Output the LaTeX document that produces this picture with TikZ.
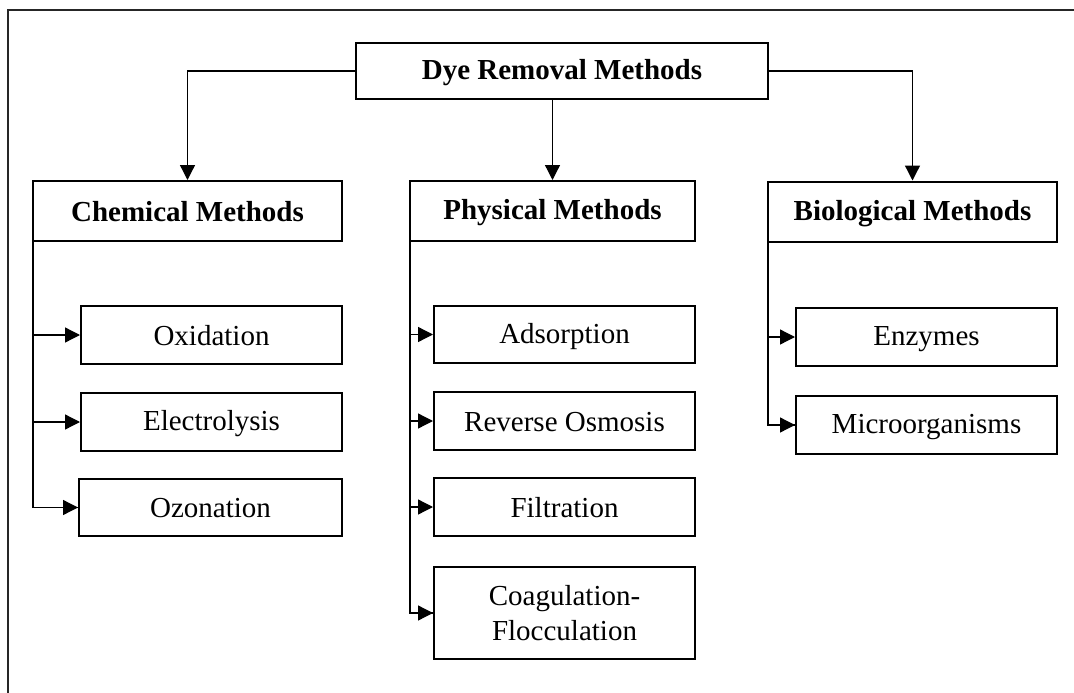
\documentclass[tikz,border=0pt]{standalone}
\usepackage{fontspec}
\setmainfont{Liberation Serif}
\usetikzlibrary{arrows.meta}
\newcommand{\mystr}{\vrule height 24pt depth 4pt width 0pt}
\begin{document}
\begin{tikzpicture}[x=1pt,y=-1pt,
  box/.style={draw,line width=2pt,inner sep=0pt,align=center,font=\fontsize{29}{35}\selectfont},
  head/.style={box,font=\fontsize{29}{35}\selectfont\bfseries},
  conn/.style={line width=1.3pt,-{Triangle[length=15pt,width=15pt]}},
  plain/.style={line width=1.3pt}]
\useasboundingbox (0,0) rectangle (1074,693);
\draw[line width=2pt,black!85] (8,693) -- (8,10) -- (1074,10);
\node[head,minimum width=412pt,minimum height=56pt] (root) at (562,71) {\mystr Dye Removal Methods};
\node[head,minimum width=309pt,minimum height=60pt] (chem) at (187.5,211) {\mystr Chemical Methods};
\node[head,minimum width=285pt,minimum height=60pt] (phys) at (552.5,211) {\mystr Physical Methods};
\node[head,minimum width=289pt,minimum height=60pt] (bio) at (912.5,211.5) {\mystr Biological Methods};
\node[box,minimum width=261pt,minimum height=58pt] (ox) at (211.5,335) {\mystr Oxidation};
\node[box,minimum width=261pt,minimum height=58pt] (el) at (211.5,422) {\mystr Electrolysis};
\node[box,minimum width=263pt,minimum height=57pt] (oz) at (210.5,507.5) {\mystr Ozonation};
\node[box,minimum width=261pt,minimum height=57pt] (ad) at (564.5,334.5) {\mystr Adsorption};
\node[box,minimum width=261pt,minimum height=58pt] (ro) at (564.5,421) {\mystr Reverse Osmosis};
\node[box,minimum width=261pt,minimum height=58pt] (fi) at (564.5,507) {\mystr Filtration};
\node[box,minimum width=261pt,minimum height=92pt] (co) at (564.5,613) {\vrule height 24pt depth 0pt width 0pt Coagulation-\\Flocculation\vrule height 0pt depth 4pt width 0pt};
\node[box,minimum width=261pt,minimum height=58pt] (en) at (926.5,337) {\mystr Enzymes};
\node[box,minimum width=261pt,minimum height=58pt] (mi) at (926.5,425) {\mystr Microorganisms};
% top level
\draw[conn] (root.west) -| (chem.north);
\draw[conn] (root.south -| phys.north) -- (phys.north);
\draw[conn] (root.east) -| (bio.north);
% chemical
\draw[plain] ([xshift=1pt]chem.south west) |- (oz.west);
\draw[conn] ([xshift=1pt]chem.south west |- ox.west) -- (ox.west);
\draw[conn] ([xshift=1pt]chem.south west |- el.west) -- (el.west);
\draw[conn] ([xshift=1pt]chem.south west |- oz.west) -- (oz.west);
% physical
\draw[plain] ([xshift=1pt]phys.south west) |- (co.west);
\draw[conn] ([xshift=1pt]phys.south west |- ad.west) -- (ad.west);
\draw[conn] ([xshift=1pt]phys.south west |- ro.west) -- (ro.west);
\draw[conn] ([xshift=1pt]phys.south west |- fi.west) -- (fi.west);
\draw[conn] ([xshift=1pt]phys.south west |- co.west) -- (co.west);
% biological
\draw[plain] ([xshift=1pt]bio.south west) |- (mi.west);
\draw[conn] ([xshift=1pt]bio.south west |- en.west) -- (en.west);
\draw[conn] ([xshift=1pt]bio.south west |- mi.west) -- (mi.west);
\end{tikzpicture}
\end{document}
